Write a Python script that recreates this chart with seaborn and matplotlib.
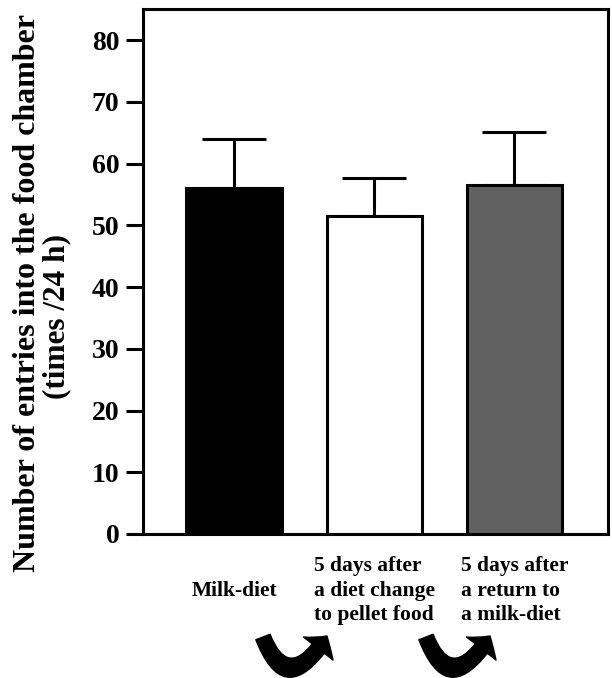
import numpy as np
import pandas as pd
import seaborn as sns
import matplotlib.pyplot as plt
from matplotlib.patches import FancyArrowPatch
from matplotlib.path import Path

# values (mean and upper error)
labels = ["Milk-diet",
          "5 days after\na diet change\nto pellet food",
          "5 days after\na return to\na milk-diet"]
means = [56.1, 51.5, 56.6]
errs = [7.9, 6.1, 8.5]
colors = ["#000000", "#ffffff", "#616161"]
yticks = [0, 10, 20, 30, 40, 50, 60, 70, 80]

df = pd.DataFrame({"group": labels, "value": means})

sns.set_style("ticks")
plt.rcParams['font.family'] = ['Liberation Serif', 'DejaVu Serif']
plt.rcParams['font.weight'] = 'bold'
for k in ['text.color', 'axes.labelcolor', 'xtick.color', 'ytick.color', 'axes.edgecolor']:
    plt.rcParams[k] = 'black'

W, H = 612, 678
fig = plt.figure(figsize=(W / 100, H / 100), dpi=100)
ax = fig.add_axes([0.2337, 0.2124, 0.760, 0.774])

sns.barplot(data=df, x="group", y="value", hue="group", palette=colors,
            legend=False, width=0.68, edgecolor="black", linewidth=2.2,
            saturation=1, ax=ax, zorder=3)
ax.errorbar(np.arange(len(means)), means, yerr=[np.zeros(len(errs)), errs],
            fmt="none", ecolor="black", elinewidth=2.2, capsize=23,
            capthick=2.2, zorder=2)

ax.set_xlim(-0.65, 2.67)
ax.set_ylim(0, 85)
ax.set_yticks(yticks)
ax.set_xlabel("")
ax.set_ylabel("")
for s in ax.spines.values():
    s.set_linewidth(2.2)
    s.set_color("black")
ax.tick_params(axis='y', length=12, width=2.2, pad=5, labelsize=20)
ax.tick_params(axis='x', length=0, pad=41, labelsize=15.5)
for lab in ax.get_xticklabels():
    lab.set_va('center')
    lab.set_multialignment('left')
    lab.set_linespacing(1.3)
    lab.set_fontweight('bold')
for lab in ax.get_yticklabels():
    lab.set_fontweight('bold')

ax.text(-0.248, 0.459, "Number of entries into the food chamber", rotation=90,
        ha='center', va='center', fontsize=23, fontweight='bold',
        transform=ax.transAxes)
ax.text(-0.185, 0.415, "(times /24 h)", rotation=90,
        ha='center', va='center', fontsize=22.5, fontweight='bold',
        transform=ax.transAxes)

# curved arrows under the labels (pixel positions -> figure fraction)
for xa, xc, xb in [(263, 287, 327), (426, 450, 490)]:
    pts = [(xa / W, 1 - 637 / H), (xc / W, 1 - 699 / H), (xb / W, 1 - 636 / H)]
    pth = Path(pts, [Path.MOVETO, Path.CURVE3, Path.CURVE3])
    arr = FancyArrowPatch(path=pth, transform=fig.transFigure,
                          arrowstyle="simple,head_length=11,head_width=27,tail_width=11",
                          color="black", clip_on=False)
    fig.patches.append(arr)

fig.savefig("out.png", dpi=100)
